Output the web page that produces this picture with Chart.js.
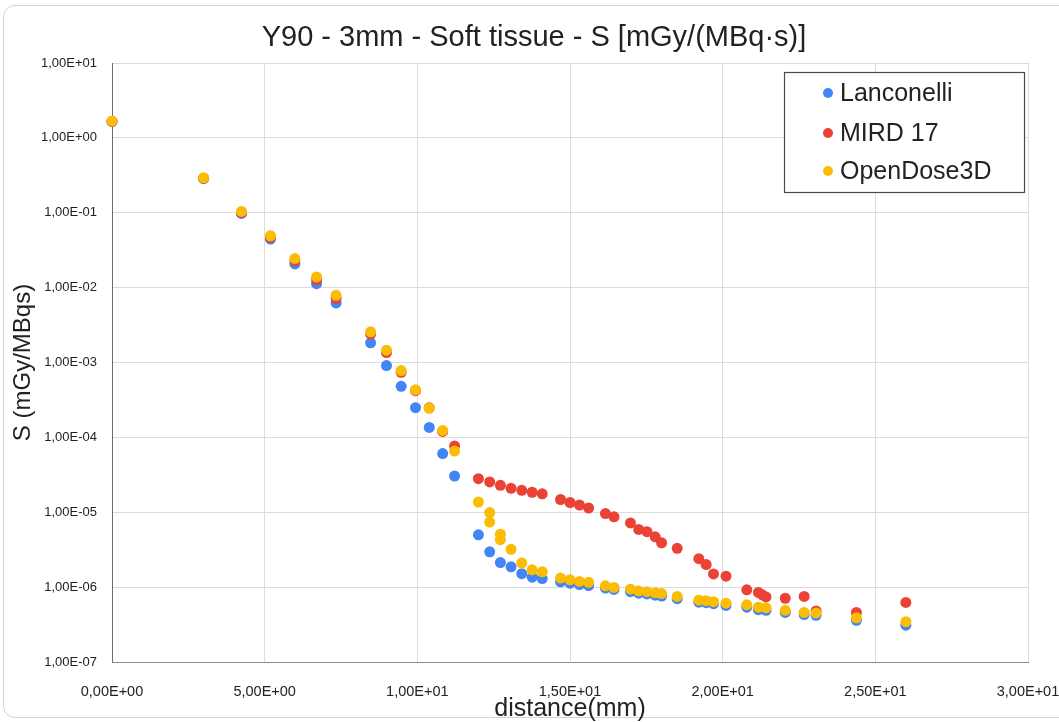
<!DOCTYPE html>
<html>
<head>
<meta charset="utf-8">
<script src="https://cdn.jsdelivr.net/npm/chart.js@4.4.1/dist/chart.umd.min.js"></script>
<style>
  html, body { margin: 0; padding: 0; background: #ffffff; overflow: hidden; }
  #wrap { position: relative; width: 1059px; height: 722px; overflow: hidden; }
  #frame { position: absolute; left: 3px; top: 5px; width: 1300px; height: 713px;
           border: 1px solid #d4d4d4; border-radius: 12px; box-sizing: border-box; }
  canvas { position: absolute; left: 0; top: 0; }
</style>
</head>
<body>
<div id="wrap">
  <div id="frame"></div>
  <canvas id="c" width="1059" height="722"></canvas>
</div>
<script>
// ---- Data ----
const distance = [0, 3.0, 4.24, 5.19, 5.99, 6.70, 7.34, 8.47, 8.99, 9.47, 9.94, 10.39, 10.83, 11.22,
  12.0, 12.37, 12.37, 12.72, 12.72, 13.07, 13.42, 13.76, 14.09, 14.69, 15.0, 15.31, 15.61,
  16.16, 16.44, 16.98, 17.25, 17.52, 17.79, 18.0, 18.51, 19.22, 19.46, 19.7, 20.11, 20.79,
  21.17, 21.3, 21.42, 22.05, 22.67, 23.06, 24.38, 26.0];

const lanconelli = [1.65, 0.285, 0.098, 0.0446, 0.0207, 0.0113, 0.00625, 0.00183, 0.00091, 0.00048, 0.000249, 0.000136, 0.0000607, 0.0000305,
  5.0e-6, 2.96e-6, null, 2.13e-6, null, 1.87e-6, 1.51e-6, 1.36e-6, 1.30e-6, 1.18e-6, 1.13e-6, 1.08e-6, 1.05e-6,
  9.7e-7, 9.3e-7, 8.7e-7, 8.3e-7, 8.1e-7, 7.8e-7, 7.6e-7, 7.0e-7, 6.3e-7, 6.2e-7, 6.0e-7, 5.7e-7, 5.4e-7,
  5.0e-7, null, 4.9e-7, 4.6e-7, 4.3e-7, 4.2e-7, 3.6e-7, 3.1e-7];

const mird17 = [1.66, 0.29, 0.101, 0.047, 0.0228, 0.0127, 0.0072, 0.0024, 0.00136, 0.00074, 0.00042, 0.000248, 0.00012, 0.0000766,
  2.81e-5, 2.54e-5, null, 2.29e-5, null, 2.09e-5, 1.96e-5, 1.85e-5, 1.76e-5, 1.48e-5, 1.35e-5, 1.25e-5, 1.14e-5,
  9.6e-6, 8.7e-6, 7.2e-6, 5.9e-6, 5.5e-6, 4.7e-6, 3.9e-6, 3.3e-6, 2.4e-6, 2.0e-6, 1.5e-6, 1.4e-6, 9.2e-7,
  8.5e-7, 7.9e-7, 7.4e-7, 7.1e-7, 7.5e-7, 4.8e-7, 4.6e-7, 6.25e-7];

const openDose3D = [1.67, 0.293, 0.104, 0.0493, 0.0244, 0.0139, 0.0079, 0.00257, 0.00146, 0.00078, 0.000432, 0.000244, 0.000124, 0.0000657,
  1.37e-5, 9.9e-6, 7.4e-6, 5.1e-6, 4.3e-6, 3.2e-6, 2.1e-6, 1.7e-6, 1.6e-6, 1.32e-6, 1.25e-6, 1.19e-6, 1.16e-6,
  1.04e-6, 9.9e-7, 9.4e-7, 8.9e-7, 8.7e-7, 8.4e-7, 8.2e-7, 7.5e-7, 6.7e-7, 6.6e-7, 6.4e-7, 6.1e-7, 5.8e-7,
  5.4e-7, null, 5.3e-7, 4.9e-7, 4.6e-7, 4.5e-7, 3.9e-7, 3.45e-7];

const seriesNames = ['Lanconelli', 'MIRD 17', 'OpenDose3D'];
const yTickValues = [1e-7, 1e-6, 1e-5, 1e-4, 1e-3, 1e-2, 1e-1, 1e0, 1e1];
const xTickValues = [0, 5, 10, 15, 20, 25, 30];

// ---- helpers ----
function pts(ys) {
  const out = [];
  for (let i = 0; i < distance.length; i++) if (ys[i] !== null) out.push({ x: distance[i], y: ys[i] });
  return out;
}
function sci(v) {
  let s = Number(v).toExponential(2); // e.g. 1.00e+1
  let [m, e] = s.split('e');
  const sign = e[0] === '-' ? '-' : '+';
  let d = e.replace(/[+-]/, '');
  if (d.length < 2) d = '0' + d;
  return m.replace('.', ',') + 'E' + sign + d;
}

const FONT = "'Liberation Sans', Arial, Helvetica, sans-serif";
const colors = ['#4285F4', '#EA4335', '#FBBC04'];

const legendPlugin = {
  id: 'boxLegend',
  afterDraw(chart) {
    const ctx = chart.ctx;
    ctx.save();
    const bx = 784.5, by = 72.5, bw = 240, bh = 120;
    ctx.fillStyle = '#ffffff';
    ctx.fillRect(bx, by, bw, bh);
    ctx.strokeStyle = '#4a4a4a';
    ctx.lineWidth = 1.2;
    ctx.strokeRect(bx, by, bw, bh);
    const rows = [93, 133, 171];
    chart.data.datasets.forEach((ds, i) => {
      ctx.beginPath();
      ctx.fillStyle = ds.backgroundColor;
      ctx.arc(828, rows[i], 5, 0, Math.PI * 2);
      ctx.fill();
      ctx.fillStyle = '#222222';
      ctx.font = '25px ' + FONT;
      ctx.textBaseline = 'middle';
      ctx.textAlign = 'left';
      ctx.fillText(ds.label, 840, rows[i] + 1);
    });
    ctx.restore();
  }
};

const series = [lanconelli, mird17, openDose3D];
const drawOrder = [3, 2, 1];

new Chart(document.getElementById('c'), {
  type: 'scatter',
  data: {
    datasets: series.map((s, i) => ({
      label: seriesNames[i],
      data: pts(s),
      backgroundColor: colors[i],
      borderColor: colors[i],
      pointRadius: 5.5,
      pointHoverRadius: 5.5,
      pointBorderWidth: 0,
      clip: false,
      order: drawOrder[i]
    }))
  },
  options: {
    responsive: false,
    animation: false,
    layout: { padding: { left: 9, right: 0, top: 0, bottom: 0 } },
    plugins: {
      legend: { display: false },
      tooltip: { enabled: false },
      title: {
        display: true,
        text: 'Y90 - 3mm - Soft tissue - S [mGy/(MBq·s)]',
        color: '#222222',
        font: { family: FONT, size: 29, weight: 'normal' },
        padding: { top: 21, bottom: 7.2 }
      }
    },
    scales: {
      x: {
        type: 'linear',
        min: 0, max: 30,
        afterBuildTicks(scale) { scale.ticks = xTickValues.map(v => ({ value: v })); },
        afterFit(scale) { scale.height = 60; scale.paddingLeft = 0; scale.paddingRight = 0; },
        grid: { color: '#dcdcdc', lineWidth: 1, drawTicks: false },
        border: { color: '#8a8a8a', width: 1 },
        ticks: {
          color: '#222222',
          padding: 21,
          maxRotation: 0,
          autoSkip: false,
          font: { family: FONT, size: 14.5 },
          callback: (v) => sci(v)
        },
        title: {
          display: true,
          text: 'distance(mm)',
          color: '#222222',
          font: { family: FONT, size: 25 },
          padding: { top: 0, bottom: -2 }
        }
      },
      y: {
        type: 'logarithmic',
        position: 'left',
        min: 1e-7, max: 10,
        afterBuildTicks(scale) { scale.ticks = yTickValues.map(v => ({ value: v, major: true })); },
        afterFit(scale) { scale.width = 103; scale.paddingTop = 0; scale.paddingBottom = 0; },
        grid: { color: '#dcdcdc', lineWidth: 1, drawTicks: false },
        border: { color: '#6e6e6e', width: 1 },
        ticks: {
          color: '#222222',
          padding: 15,
          autoSkip: false,
          font: { family: FONT, size: 13 },
          callback: (v) => sci(v)
        },
        title: {
          display: true,
          text: 'S (mGy/MBqs)',
          color: '#222222',
          font: { family: FONT, size: 24 },
          padding: { top: 0, bottom: 0 }
        }
      },
      yRight: {
        type: 'linear',
        position: 'right',
        display: true,
        grid: { display: false, drawTicks: false },
        border: { display: false },
        ticks: { display: false },
        afterFit(scale) { scale.width = 31; }
      }
    }
  },
  plugins: [legendPlugin]
});
</script>
</body>
</html>
